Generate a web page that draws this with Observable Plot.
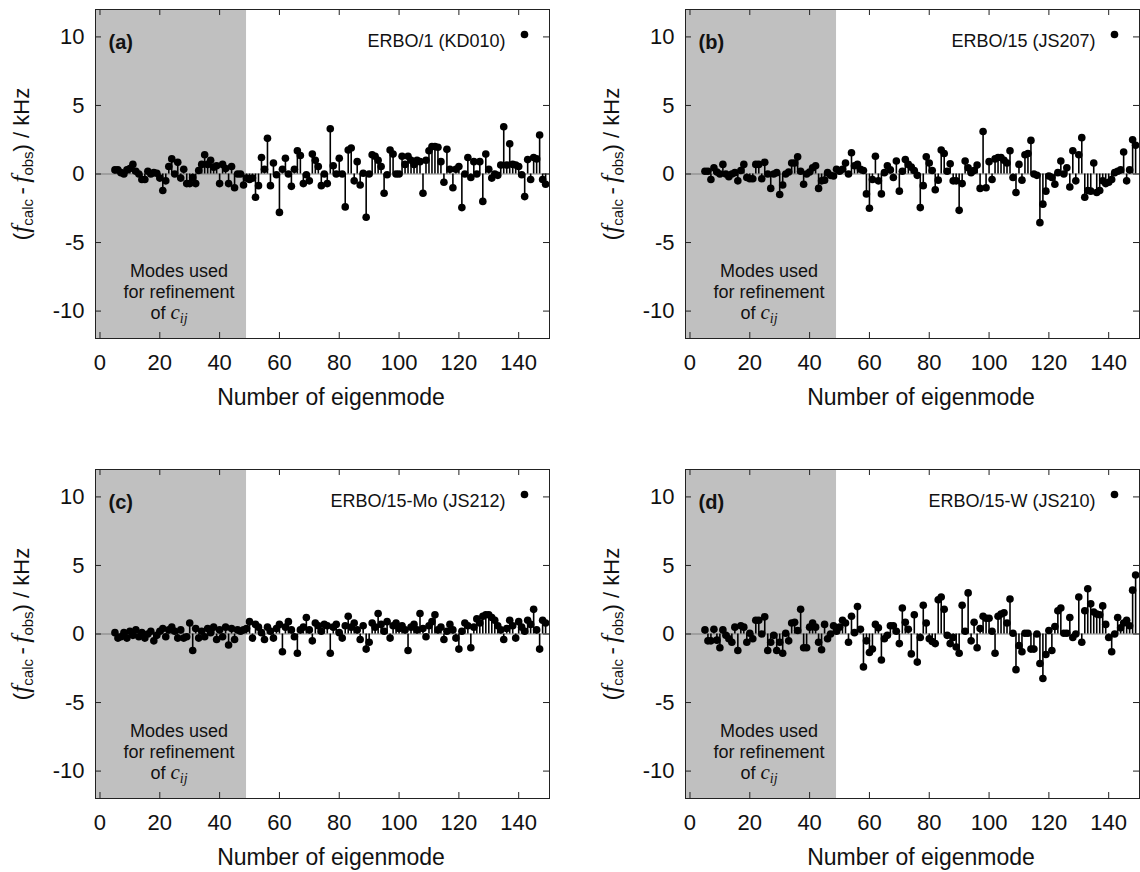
<!DOCTYPE html>
<html>
<head>
<meta charset="utf-8">
<script src="https://cdn.jsdelivr.net/npm/d3@7"></script>
<script src="https://cdn.jsdelivr.net/npm/@observablehq/plot@0.6"></script>
<style>
html, body { margin: 0; padding: 0; background: #fff; overflow: hidden; }
#fig { position: relative; width: 1140px; height: 872px; overflow: hidden;
       font-family: "Liberation Sans", Arial, sans-serif; color: #111; }
.panel { position: absolute; width: 590px; height: 460px; }
.panel svg { position: absolute; left: 0; top: 0; }
.ytitle { position: absolute; left: 21px; top: 164px; transform: translate(-50%, -50%) rotate(-90deg);
          white-space: nowrap; font-size: 22px; line-height: 1; }
.ytitle .f { font-family: "Liberation Serif", "DejaVu Serif", serif; font-style: italic; font-size: 26px; }
.ytitle sub { font-size: 15px; vertical-align: -4px; }
.xtitle { position: absolute; left: 331px; top: 397px; transform: translate(-50%, -50%);
          white-space: nowrap; font-size: 23px; }
.note { position: absolute; left: 179px; top: 261px; transform: translateX(-50%);
        text-align: center; font-size: 18px; line-height: 20.5px; white-space: nowrap; }
.note .c { font-family: "Liberation Serif", "DejaVu Serif", serif; font-style: italic; font-size: 21px; }
.note sub { font-family: "Liberation Serif", "DejaVu Serif", serif; font-style: italic; font-size: 14px; vertical-align: -4px; }
</style>
</head>
<body>
<div id="fig"></div>
<script>
// ---- data ----
const firstMode = 5;
const xTicks = [0, 20, 40, 60, 80, 100, 120, 140];
const yTicks = [-10, -5, 0, 5, 10];
const xDomain = [-1.5, 150.3];
const yDomain = [-12, 12];
const refinementRange = [-1.5, 49];   // modes used for refinement of c_ij
const panelLabels = ["(a)", "(b)", "(c)", "(d)"];
const sampleNames = ["ERBO/1 (KD010)", "ERBO/15 (JS207)", "ERBO/15-Mo (JS212)", "ERBO/15-W (JS210)"];

// (f_calc - f_obs) in kHz, modes 5..149
const valuesA = [
  0.3, 0.3, 0.1, 0, 0.3, 0.4, 0.7, 0.2, 0, -0.4,
  -0.4, 0.2, 0, 0.1, 0.05, -0.3, -1.2, -0.5, 0.55, 1.1,
  0, 0.85, -0.3, 0.35, -0.7, -0.7, -0.25, -0.7, 0.25, 0.7,
  1.4, 0.7, 1.0, 0.5, 0.6, -0.7, 0.7, 0.4, -0.7, 0.55,
  -1.0, 0, 0, -0.8, -0.3, -0.4, -0.3, -1.7, -0.85, 1.2,
  0.35, 2.6, -0.85, 0.8, -0.05, -2.8, 0.35, 1.15, 0, -0.9,
  0.35, 1.7, 1.35, -0.7, -0.05, -0.5, 1.45, 1.0, 0.55, -0.85,
  0, -0.7, 3.3, 0.6, 0, 1.15, 0, -2.4, 1.75, 1.9,
  -0.5, 0.9, -0.8, 0.05, -3.15, 0, 1.4, 1.3, 1.0, 0.55,
  -1.4, -0.05, 1.75, 1.45, 0, 0, 1.3, 0.7, 1.3, 1.0,
  0.7, 1.0, 0.9, -1.4, 1.0, 1.7, 2.0, 2.0, 1.95, 0.9,
  -0.6, 1.8, 0.35, -1.0, 0.35, 0.55, -2.45, 0, 1.2, -0.25,
  0.9, 0, 0.9, -2.0, 1.45, 0.35, -0.3, 0, -0.1, 0.65,
  3.45, 0.65, 2.2, 0.7, 0.65, 0.55, -0.05, -1.65, 1.05, -0.4,
  1.2, 1.1, 2.85, -0.4, -0.75
];
const valuesB = [
  0.2, 0.2, -0.4, 0.45, 0.15, 0, 0.7, 0, -0.2, 0,
  0.1, -0.5, 0.25, 0.7, -0.25, -0.35, -0.35, 0.7, 0.7, -0.35,
  0.85, 0, -1.05, 0, 0.1, -1.5, -0.8, 0, 0.15, 0.8,
  0.8, 1.25, 0.2, -0.75, 0, 0.15, 0.45, 0.6, -1.05, -0.5,
  -0.45, 0.1, -0.1, -0.15, 0.35, 0.2, 0.35, 0.8, 0, 1.55,
  0.6, 0.7, 0.35, 0.25, -1.45, -2.5, -0.4, 1.3, -0.5, -1.45,
  0.1, 0.6, 0.3, -0.25, 0.95, -1.25, 0.2, 1.05, 0.7, 0.5,
  0.25, -0.1, -2.45, -0.85, 1.25, 0.8, 0.25, -1.15, -0.45, 1.75,
  1.5, 0.2, 0.75, -0.5, -0.5, -2.65, -0.7, 0.95, 0.45, 0.1,
  0.25, 0.65, -1.05, 3.1, -1.0, 0.9, -0.4, 1.1, 1.2, 1.2,
  1.0, 0.8, 1.7, -0.25, -1.35, 0.7, -0.45, 1.4, 1.5, 2.45,
  0, -0.1, -3.55, -2.2, -1.25, -0.15, -0.25, -0.75, 0.1, 0.95,
  0, 0.45, -0.95, 1.7, -0.5, 1.4, 2.65, -1.7, -1.2, -1.25,
  0.8, -1.35, -1.2, -0.5, -0.7, -0.6, -0.4, 0.1, 0.2, 0.3,
  1.6, -0.5, 0.3, 2.5, 2.1
];
const valuesC = [
  0.1, -0.3, -0.2, 0.1, -0.3, 0.2, -0.1, 0.3, -0.2, 0.1,
  -0.3, 0, 0.2, -0.5, -0.1, 0.2, 0.4, -0.2, 0.3, 0.5,
  0.2, -0.3, 0.3, -0.3, -0.2, 0.8, -1.2, 0.4, -0.3, 0.2,
  -0.2, 0.4, 0.1, 0.5, -0.4, 0.3, -0.2, 0.5, -0.8, 0.4,
  -0.4, 0.3, 0.2, 0.3, 0.4, 0.9, -0.3, 0.7, 0.5, 0.1,
  -0.4, 0.5, 0.2, -0.3, 0.4, 0.7, -1.3, 0.5, 0.9, 0.3,
  -0.2, -1.4, 0.3, 0.5, 1.2, 0.3, -0.5, 0.8, 0.6, 0.2,
  0.7, 0.6, -1.4, 0.5, 0.7, 0.1, -0.3, 0.6, 1.3, 0.5,
  0.8, 0.3, -0.4, 0.6, -1.1, -0.6, 0.8, 0.5, 1.5, 0.7,
  0.2, 0.9, -0.3, 0.6, 0.8, 0.4, 0.6, 0.3, -1.2, 0.5,
  0.7, 0.3, 1.5, 0.4, -0.2, 0.6, 0.9, 1.4, 0.3, 0.5,
  -0.4, 0.2, 0.7, 0.3, -0.3, -1.1, 0.2, 0.8, 0.6, -1.0,
  0.5, 1.1, 0.8, 1.3, 1.4, 1.4, 1.2, 1.0, 0.6, 0.3,
  -0.4, 0.4, 1.0, 0.6, -0.3, 0.9, 0.5, 0.2, 1.0, 0.7,
  1.8, 0.3, -1.1, 1.0, 0.8
];
const valuesD = [
  0.3, -0.5, -0.5, 0.35, -0.45, -1.0, 0.3, -0.1, -0.35, -0.6,
  0.5, -1.2, 0.6, 0.5, -0.6, 0.05, -0.35, 1.0, 1.0, 0,
  1.25, -1.2, -0.6, -0.1, -1.2, -0.6, -1.4, 0.05, -0.5, 0.8,
  0.85, 0.25, 1.8, -1.0, -1.0, 0.5, 0.8, 0.5, -0.6, -1.15,
  0.7, -0.35, 0, 0.6, 0.2, 0.5, 1.0, 0.8, -0.6, 1.3,
  0.1, 2.0, 0.35, -2.4, -0.5, -1.35, -1.1, 0.7, 0.45, -1.9,
  -0.35, -0.1, 0.6, 0.6, 0.2, -0.7, 1.9, 0.85, 0.35, -1.45,
  1.4, -2.05, -0.25, 2.1, 0.8, -0.35, -0.55, -0.7, 2.5, 2.7,
  1.8, -0.1, -0.7, -0.25, -0.95, -1.4, 2.1, 0.2, 3.0, -0.5,
  0.85, -1.0, 0.4, 1.3, 1.15, 1.15, 0.2, -1.4, 1.3, 1.45,
  1.55, 0.8, 2.55, 0.05, -2.6, -0.85, -1.3, 0.05, 0.05, -1.1,
  -1.1, 0, -2.15, -3.25, -1.5, 0.25, -1.2, 0.55, 1.7, 1.9,
  0.05, 0.05, 1.2, -0.25, 0, 2.7, -0.6, 1.7, 3.3, 2.2,
  1.6, 1.45, 1.4, 2.05, 0.7, -0.25, -1.3, 0, 1.2, 0.45,
  0.8, 1.0, 0.6, 3.2, 4.3
];
const allValues = [valuesA, valuesB, valuesC, valuesD];

// ---- drawing ----
const FONT = '"Liberation Sans", Arial, sans-serif';
const W = 590, H = 460, mL = 95, mR = 41, mT = 9, mB = 122;
const tickPx = 6;

function makePanel(values, label, name) {
  const data = values.map((v, i) => ({mode: firstMode + i, value: v}));
  const tx = tickPx * (xDomain[1] - xDomain[0]) / (W - mL - mR);
  const ty = tickPx * (yDomain[1] - yDomain[0]) / (H - mT - mB);
  return Plot.plot({
    width: W, height: H,
    marginLeft: mL, marginRight: mR, marginTop: mT, marginBottom: mB,
    style: {fontFamily: FONT, fontSize: "22px", color: "#111", background: "none", overflow: "visible"},
    x: {domain: xDomain},
    y: {domain: yDomain},
    marks: [
      Plot.rect([refinementRange], {x1: d => d[0], x2: d => d[1], fill: "#c0c0c0"}),
      Plot.ruleY([0], {stroke: "#808080", strokeWidth: 1}),
      Plot.ruleX(data, {x: "mode", y1: 0, y2: "value", stroke: "#000", strokeWidth: 1.6}),
      Plot.dot(data, {x: "mode", y: "value", r: 3.8, fill: "#000", stroke: "none"}),
      Plot.frame({stroke: "#222", strokeWidth: 1}),
      Plot.ruleX(xTicks, {x: d => d, y1: yDomain[0], y2: yDomain[0] + ty, stroke: "#222"}),
      Plot.ruleX(xTicks, {x: d => d, y1: yDomain[1] - ty, y2: yDomain[1], stroke: "#222"}),
      Plot.ruleY(yTicks, {y: d => d, x1: xDomain[0], x2: xDomain[0] + tx, stroke: "#222"}),
      Plot.ruleY(yTicks, {y: d => d, x1: xDomain[1] - tx, x2: xDomain[1], stroke: "#222"}),
      Plot.axisX({ticks: xTicks, tickSize: 0, tickPadding: 16, fontSize: 22, tickFormat: d => String(d), label: null}),
      Plot.axisY({ticks: yTicks, tickSize: 0, tickPadding: 11, fontSize: 22, tickFormat: d => String(d), label: null}),
      Plot.text([label], {text: d => d, frameAnchor: "top-left", dx: 13, dy: 25, fontWeight: "bold", fontSize: 20, textAnchor: "start", fill: "#111"}),
      Plot.text([name], {text: d => d, frameAnchor: "top-right", dx: -44, dy: 25, fontSize: 18, textAnchor: "end", fill: "#111"}),
      Plot.dot([name], {frameAnchor: "top-right", dx: -25, dy: 25, r: 3.8, fill: "#000", stroke: "none"})
    ]
  });
}

const fig = document.getElementById("fig");
const offsets = [[0, 0], [590, 0], [0, 460], [590, 460]];
allValues.forEach((vals, i) => {
  const div = document.createElement("div");
  div.className = "panel";
  div.style.left = offsets[i][0] + "px";
  div.style.top = offsets[i][1] + "px";
  div.appendChild(makePanel(vals, panelLabels[i], sampleNames[i]));
  const yt = document.createElement("div");
  yt.className = "ytitle";
  yt.innerHTML = '(<span class="f">f</span><sub>calc</sub>&#8201;-&#8201;<span class="f">f</span><sub>obs</sub>) / kHz';
  div.appendChild(yt);
  const xt = document.createElement("div");
  xt.className = "xtitle";
  xt.textContent = "Number of eigenmode";
  div.appendChild(xt);
  const note = document.createElement("div");
  note.className = "note";
  note.innerHTML = 'Modes used<br>for refinement<br><span style="position:relative;left:-10px">of <span class="c">c</span><sub>ij</sub></span>';
  div.appendChild(note);
  fig.appendChild(div);
});
</script>
</body>
</html>
